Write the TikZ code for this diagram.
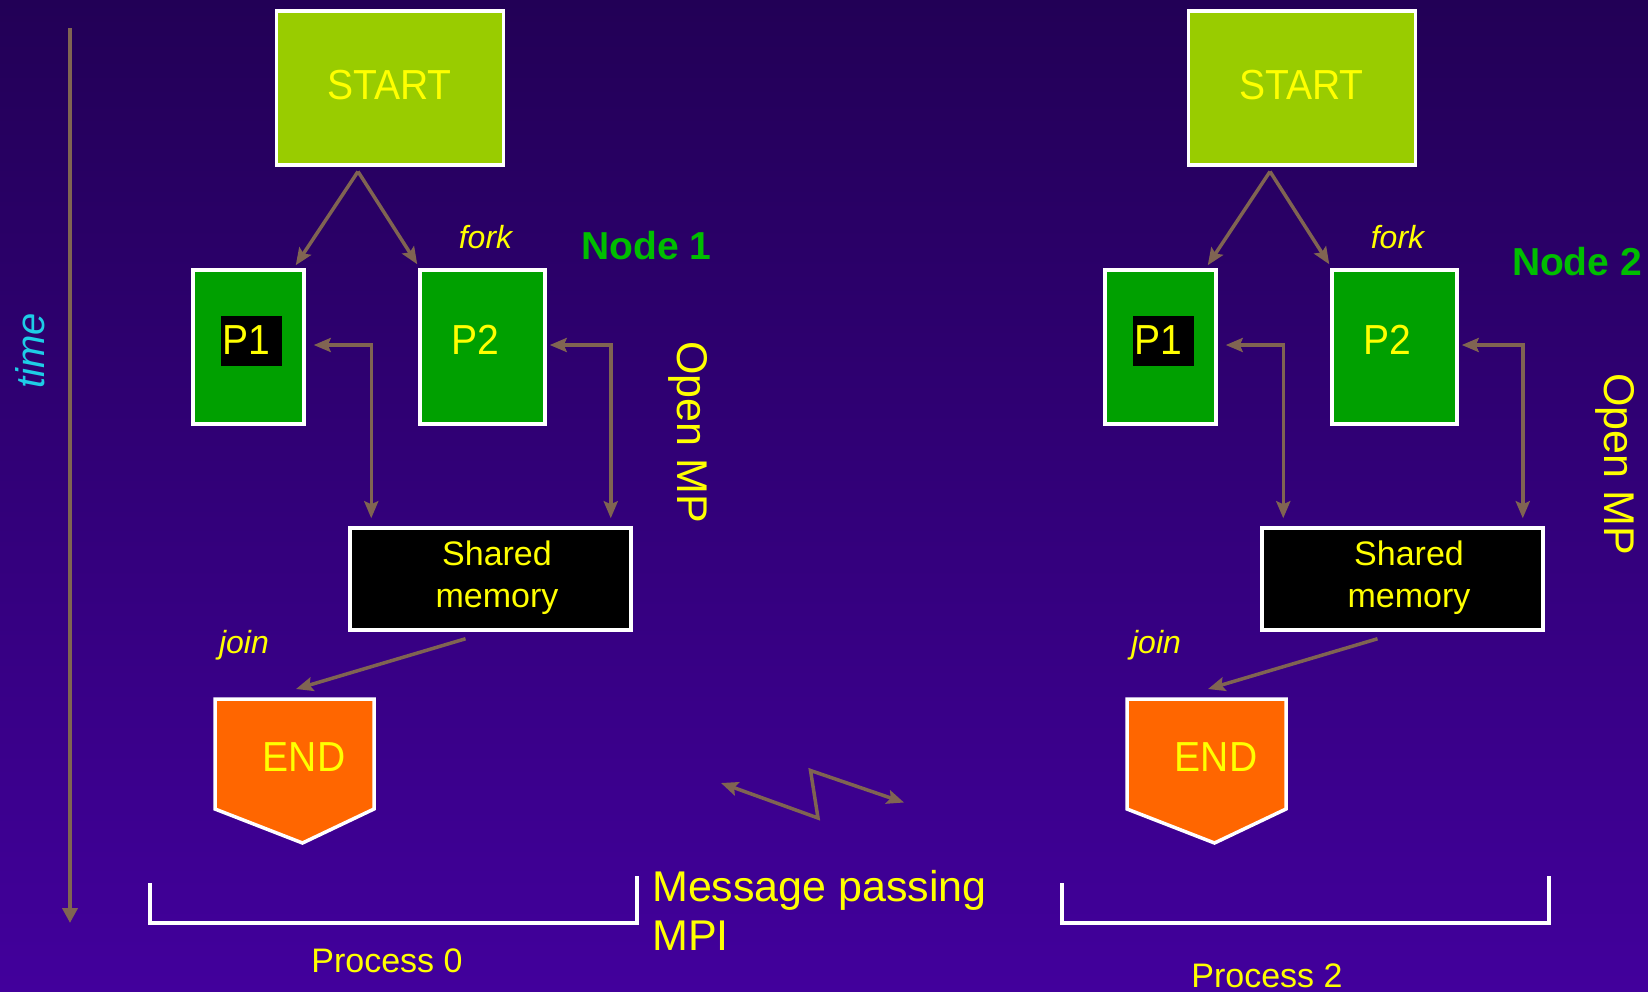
\documentclass[tikz,border=0pt]{standalone}
\usepackage{fontspec}
\setmainfont{Liberation Sans}
\newfontfamily\boxfont{Liberation Sans}[FakeStretch=0.93]
\usetikzlibrary{arrows.meta,calc}

\definecolor{bgtop}{RGB}{34,0,86}
\definecolor{bgbot}{RGB}{66,0,156}
\definecolor{startgreen}{RGB}{153,204,0}
\definecolor{procgreen}{RGB}{0,160,0}
\definecolor{endorange}{RGB}{255,102,0}
\definecolor{txtyellow}{RGB}{255,255,0}
\definecolor{nodegreen}{RGB}{0,190,0}
\definecolor{timecyan}{RGB}{30,205,230}
\definecolor{linkbrown}{RGB}{128,100,82}

\begin{document}
\begin{tikzpicture}[x=1pt,y=-1pt,
  box/.style={draw=white, line width=3.5pt, inner sep=0pt},
  startbox/.style={box, fill=startgreen, minimum width=227pt, minimum height=154pt},
  procbox/.style={box, fill=procgreen, minimum height=154pt},
  membox/.style={box, fill=black, minimum width=281pt, minimum height=102pt},
  endbox/.style={draw=white, line width=3.5pt, fill=endorange, line join=miter},
  bigtxt/.style={text=txtyellow, inner sep=0pt, font=\boxfont\fontsize{42}{42}\selectfont},
  midtxt/.style={text=txtyellow, inner sep=0pt, font=\fontsize{34}{42}\selectfont},
  labeltxt/.style={text=txtyellow, inner sep=0pt, font=\fontsize{43}{49}\selectfont},
  verbtxt/.style={text=txtyellow, inner sep=0pt, font=\itshape\fontsize{32}{32}\selectfont},
  hosttxt/.style={text=nodegreen, inner sep=0pt, font=\bfseries\fontsize{39}{39}\selectfont},
  flow/.style={draw=linkbrown, line width=3.5pt, -{Stealth[length=17pt,width=14pt,inset=3pt]}},
  twoway/.style={draw=linkbrown, line width=3.5pt,
    {Stealth[length=17pt,width=14pt,inset=3pt]}-{Stealth[length=17pt,width=14pt,inset=3pt]}},
  spanline/.style={draw=white, line width=3.5pt}
]
% background
\shade[top color=bgtop, bottom color=bgbot] (0,0) rectangle (1648,991);
\useasboundingbox (0,0) rectangle (1648,991);

% time axis
\coordinate (t0) at (70,28);
\coordinate (t1) at (70,923);
\draw[draw=linkbrown, line width=4pt, -{Triangle[length=15pt,width=15pt]}] (t0) -- (t1);
\node[rotate=90, text=timecyan, inner sep=0pt, font=\itshape\fontsize{40}{40}\selectfont] (timelbl) at (30,351) {time};

% one compute node with two threads, repeated
\foreach \k/\dx/\nlx/\nly/\omx/\omy/\pn/\plx/\ply in
  {1/0/646.4/246/688/432/0/387/972, 2/912/665/261.5/703.5/464/2/355/987} {
  \begin{scope}[xshift=\dx pt]
    \node[startbox] (s\k) at (389.9,87.8) {};
    \node[bigtxt] (stl\k) at (389.5,84.7) {START};
    \coordinate (fk\k) at (358,171.5);

    \node[procbox, minimum width=111pt] (pa\k) at (248.5,347) {};
    \node[procbox, minimum width=125pt] (pb\k) at (482.5,347) {};
    \node[fill=black, minimum width=61pt, minimum height=50pt, inner sep=0pt] (pak\k) at (251.5,341) {};
    \node[bigtxt, anchor=west] (pal\k) at (222.5,340) {P1};
    \node[bigtxt] (pbl\k) at (475.5,340) {P2};

    \draw[flow] (fk\k) -- ($(pa\k.north east)+(-10,-3)$);
    \draw[flow] (fk\k) -- ($(pb\k.north west)+(-1,-4)$);
    \node[verbtxt, anchor=base] (fkl\k) at (485.5,248) {fork};
    \node[hosttxt] (host\k) at (\nlx,\nly) {Node \k};
    \node[labeltxt, rotate=-90] (omp\k) at (\omx,\omy) {Open MP};

    \node[membox] (m\k) at (490.5,579) {};
    \node[midtxt, align=center] (ml\k) at (497,577.6) {Shared\\memory};
    \draw[twoway] ($(pa\k.east)+(8,-2)$) -| ($(m\k.north west)+(23,-8)$);
    \draw[twoway] ($(pb\k.east)+(3,-2)$) -| ($(m\k.north east)+(-22,-8)$);

    \coordinate (jn\k) at (296,689);
    \draw[flow] ($(m\k.south)+(-25,7)$) -- (jn\k);
    \node[verbtxt, anchor=base] (jnl\k) at (244,653) {join};

    \draw[endbox] (215,699) -- (374,699) -- (374,809) -- (302.5,843) -- (215,809) -- cycle;
    \node[bigtxt] (e\k) at (304,757.5) {END};

    \draw[spanline] (150,883) -- (150,923) -- (637,923) -- (637,876);
    \node[midtxt, anchor=base] (prc\k) at (\plx,\ply) {Process \pn};
  \end{scope}
}

% message passing between the nodes
\coordinate (z1) at (721,783);
\coordinate (z2) at (818,818);
\coordinate (z3) at (810.5,770.5);
\coordinate (z4) at (904,802.5);
\draw[twoway, line join=miter] (z1) -- (z2) -- (z3) -- (z4);
\node[labeltxt, anchor=base west] (mp) at (652,901) {Message passing};
\node[labeltxt, anchor=base west] (mpi) at (652,950) {MPI};
\end{tikzpicture}
\end{document}
